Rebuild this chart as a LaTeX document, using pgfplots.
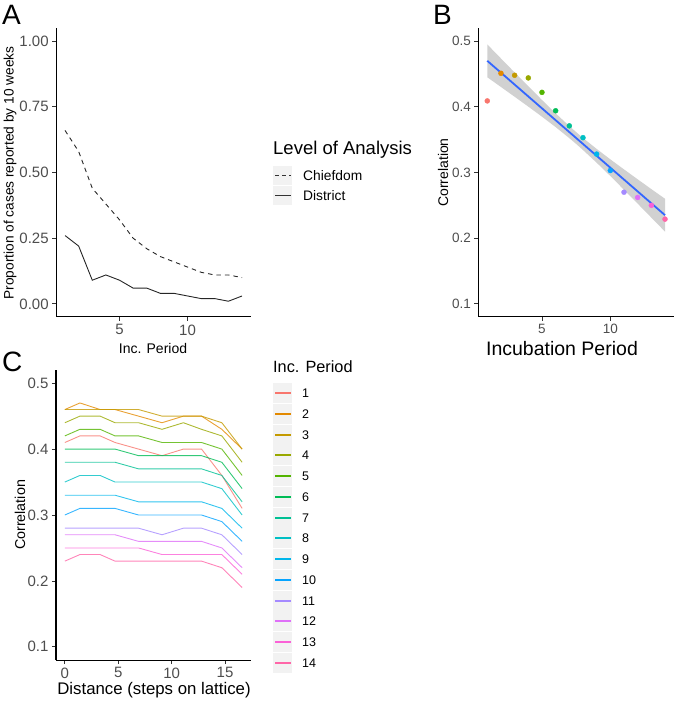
\documentclass[border=0pt]{standalone}
\usepackage{fontspec}
\setmainfont{Liberation Sans}
\usepackage{pgfplots}
\usepackage{pgfplotstable}
\pgfplotsset{compat=1.18}
\definecolor{c1}{HTML}{F8766D}
\definecolor{c2}{HTML}{E38900}
\definecolor{c3}{HTML}{C49A00}
\definecolor{c4}{HTML}{99A800}
\definecolor{c5}{HTML}{53B400}
\definecolor{c6}{HTML}{00BC56}
\definecolor{c7}{HTML}{00C094}
\definecolor{c8}{HTML}{00BFC4}
\definecolor{c9}{HTML}{00B6EB}
\definecolor{c10}{HTML}{06A4FF}
\definecolor{c11}{HTML}{A58AFF}
\definecolor{c12}{HTML}{DF70F8}
\definecolor{c13}{HTML}{FB61D7}
\definecolor{c14}{HTML}{FF66A8}
\definecolor{tickgray}{HTML}{4D4D4D}
\definecolor{keybg}{HTML}{F2F2F2}
\definecolor{smoothblue}{HTML}{3366FF}

\pgfplotstableread{
x p1 p2 p3 p4 p5 p6 p7 p8 p9 p10 p11 p12 p13 p14
0 0.41 0.46 0.46 0.44 0.42 0.40 0.38 0.35 0.33 0.30 0.28 0.27 0.25 0.23
1.41 0.42 0.47 0.46 0.45 0.43 0.40 0.38 0.36 0.33 0.31 0.28 0.27 0.25 0.24
3.3 0.42 0.46 0.46 0.45 0.43 0.40 0.38 0.36 0.33 0.31 0.28 0.27 0.25 0.24
4.7 0.41 0.46 0.46 0.44 0.42 0.40 0.38 0.35 0.33 0.31 0.28 0.27 0.25 0.23
6.9 0.40 0.45 0.46 0.44 0.42 0.39 0.37 0.35 0.32 0.30 0.28 0.26 0.25 0.23
9.1 0.39 0.44 0.45 0.43 0.41 0.39 0.37 0.35 0.32 0.30 0.27 0.26 0.24 0.23
11.1 0.40 0.45 0.45 0.44 0.41 0.39 0.37 0.35 0.32 0.30 0.28 0.26 0.24 0.23
12.8 0.40 0.45 0.45 0.43 0.41 0.39 0.37 0.35 0.32 0.30 0.28 0.26 0.24 0.23
14.7 0.36 0.43 0.44 0.42 0.40 0.38 0.36 0.34 0.31 0.29 0.27 0.25 0.24 0.22
16.6 0.31 0.40 0.40 0.38 0.36 0.34 0.32 0.30 0.28 0.26 0.24 0.22 0.21 0.19
}\tabC

\pgfplotsset{
  gg/.style={
    scale only axis,
    axis lines*=left,
    axis line style={line width=1pt, black},
    every tick/.style={line width=0.8pt, black!80},
    tick align=outside,
    major tick length=4pt,
    /pgf/number format/assume math mode=true,
    ticklabel style={text=tickgray},
    clip=false,
  },
  cl/.style={line width=0.9pt, draw opacity=0.8},
}

\begin{document}
\begin{tikzpicture}
\path[use as bounding box] (0,0) rectangle (677pt,702pt);

% ---------------- Panel A ----------------
\begin{axis}[gg, at={(56.2pt,385pt)}, anchor=south west,
  width=194.7pt, height=289pt,
  xmin=0.35, xmax=14.65, ymin=-0.05, ymax=1.05,
  xtick={5,10}, ytick={0,0.25,0.5,0.75,1},
  yticklabels={0.00,0.25,0.50,0.75,1.00},
  ticklabel style={font=\fontsize{15}{15}\selectfont}]
\addplot[black!85, line width=0.9pt, dash pattern=on 4.5pt off 4pt] coordinates {
(1,0.66) (2,0.58) (3,0.44) (4,0.38) (5,0.32) (6,0.25) (7,0.21) (8,0.18) (9,0.16) (10,0.14) (11,0.12) (12,0.11) (13,0.11) (14,0.10)};
\addplot[black!85, line width=0.9pt] coordinates {
(1,0.26) (2,0.22) (3,0.09) (4,0.11) (5,0.09) (6,0.06) (7,0.06) (8,0.04) (9,0.04) (10,0.03) (11,0.02) (12,0.02) (13,0.01) (14,0.03)};
\end{axis}

% ---------------- Panel B ----------------
\begin{axis}[gg, at={(478.4pt,385pt)}, anchor=south west,
  width=195.5pt, height=289pt,
  xmin=0.35, xmax=14.65, ymin=0.08, ymax=0.52,
  xtick={5,10}, ytick={0.1,0.2,0.3,0.4,0.5},
  yticklabels={0.1,0.2,0.3,0.4,0.5},
  ticklabel style={font=\fontsize{13.5}{13.5}\selectfont}]
\addplot[only marks, mark=*, mark size=2.5pt, c1] coordinates {(1,0.409)};
\addplot[only marks, mark=*, mark size=2.5pt, c2] coordinates {(2,0.451)};
\addplot[only marks, mark=*, mark size=2.5pt, c3] coordinates {(3,0.448)};
\addplot[only marks, mark=*, mark size=2.5pt, c4] coordinates {(4,0.444)};
\addplot[only marks, mark=*, mark size=2.5pt, c5] coordinates {(5,0.422)};
\addplot[only marks, mark=*, mark size=2.5pt, c6] coordinates {(6,0.394)};
\addplot[only marks, mark=*, mark size=2.5pt, c7] coordinates {(7,0.371)};
\addplot[only marks, mark=*, mark size=2.5pt, c8] coordinates {(8,0.353)};
\addplot[only marks, mark=*, mark size=2.5pt, c9] coordinates {(9,0.328)};
\addplot[only marks, mark=*, mark size=2.5pt, c10] coordinates {(10,0.303)};
\addplot[only marks, mark=*, mark size=2.5pt, c11] coordinates {(11,0.270)};
\addplot[only marks, mark=*, mark size=2.5pt, c12] coordinates {(12,0.262)};
\addplot[only marks, mark=*, mark size=2.5pt, c13] coordinates {(13,0.250)};
\addplot[only marks, mark=*, mark size=2.5pt, c14] coordinates {(14,0.229)};
% confidence band
\addplot[draw=none, fill=black!60, fill opacity=0.3] coordinates {
(1,0.4950) (2,0.4736) (3,0.4523) (4,0.4313) (5,0.4104) (6,0.3901) (7,0.3707) (7.5,0.3615) (8,0.3526) (9,0.3359) (10,0.3200) (11,0.3047) (12,0.2896) (13,0.2747) (14,0.2600)
(14,0.2100) (13,0.2313) (12,0.2526) (11,0.2737) (10,0.2946) (9,0.3149) (8,0.3342) (7.5,0.3435) (7,0.3523) (6,0.3691) (5,0.3850) (4,0.4003) (3,0.4153) (2,0.4302) (1,0.4450)} -- cycle;
\addplot[smoothblue, line width=1.8pt] coordinates {(1,0.470) (14,0.235)};
\end{axis}

% ---------------- Panel C ----------------
\begin{axis}[gg, at={(56pt,42pt)}, anchor=south west,
  width=195pt, height=290pt,
  xmin=-0.83, xmax=17.43, ymin=0.08, ymax=0.52,
  xtick={0,5,10,15}, ytick={0.1,0.2,0.3,0.4,0.5},
  yticklabels={0.1,0.2,0.3,0.4,0.5},
  ticklabel style={font=\fontsize{15}{15}\selectfont}]
\addplot[c1, cl] table[x=x,y=p1]{\tabC};
\addplot[c2, cl] table[x=x,y=p2]{\tabC};
\addplot[c3, cl] table[x=x,y=p3]{\tabC};
\addplot[c4, cl] table[x=x,y=p4]{\tabC};
\addplot[c5, cl] table[x=x,y=p5]{\tabC};
\addplot[c6, cl] table[x=x,y=p6]{\tabC};
\addplot[c7, cl] table[x=x,y=p7]{\tabC};
\addplot[c8, cl] table[x=x,y=p8]{\tabC};
\addplot[c9, cl] table[x=x,y=p9]{\tabC};
\addplot[c10, cl] table[x=x,y=p10]{\tabC};
\addplot[c11, cl] table[x=x,y=p11]{\tabC};
\addplot[c12, cl] table[x=x,y=p12]{\tabC};
\addplot[c13, cl] table[x=x,y=p13]{\tabC};
\addplot[c14, cl] table[x=x,y=p14]{\tabC};
\end{axis}

% ---------------- Texts ----------------
\node[anchor=base west, inner sep=0, font=\fontsize{28}{28}\selectfont] at (2pt,677pt) {A};
\node[anchor=base west, inner sep=0, font=\fontsize{28}{28}\selectfont] at (433pt,677pt) {B};
\node[anchor=base west, inner sep=0, font=\fontsize{28}{28}\selectfont] at (2pt,330pt) {C};

% Panel A labels
\node[rotate=90, inner sep=0, font=\fontsize{13.7}{13.7}\selectfont] at (10pt,529pt) {Proportion of cases reported by 10 weeks};
\node[inner sep=0, font=\fontsize{14}{14}\selectfont] at (153pt,354pt) {Inc. Period};
% Panel A legend
\node[anchor=base west, inner sep=0, font=\fontsize{18.5}{18.5}\selectfont] at (273pt,547pt) {Level of Analysis};
\fill[keybg] (273pt,517pt) rectangle (292pt,536pt);
\fill[keybg] (273pt,497pt) rectangle (292pt,516pt);
\draw[black!80, line width=1pt, dash pattern=on 4pt off 3pt] (275pt,526.5pt) -- (291pt,526.5pt);
\draw[black!80, line width=1pt] (275pt,506.5pt) -- (291pt,506.5pt);
\node[anchor=west, inner sep=0, font=\fontsize{13.8}{13.8}\selectfont] at (303pt,526pt) {Chiefdom};
\node[anchor=west, inner sep=0, font=\fontsize{13.8}{13.8}\selectfont] at (303pt,506pt) {District};

% Panel B labels
\node[rotate=90, inner sep=0, font=\fontsize{14}{14}\selectfont] at (443pt,529.5pt) {Correlation};
\node[inner sep=0, font=\fontsize{19.5}{19.5}\selectfont] at (562pt,353pt) {Incubation Period};

% Panel C labels
\node[rotate=90, inner sep=0, font=\fontsize{14.3}{14.3}\selectfont] at (20pt,187pt) {Correlation};
\node[inner sep=0, font=\fontsize{16.8}{16.8}\selectfont] at (154pt,12pt) {Distance (steps on lattice)};
% Panel C legend
\node[anchor=base west, inner sep=0, font=\fontsize{16.3}{16.3}\selectfont] at (273pt,329pt) {Inc. Period};
\foreach \i in {1,...,14}{
  \pgfmathsetmacro{\yc}{round(702-393-(\i-1)*20.77)}
  \fill[keybg] (273pt,\yc pt-9.6pt) rectangle (292pt,\yc pt+9.6pt);
  \draw[c\i, line width=1.3pt] (275pt,\yc pt) -- (291pt,\yc pt);
  \node[anchor=west, inner sep=0, font=\fontsize{12.5}{12.5}\selectfont] at (302pt,\yc pt) {\i};
}
\end{tikzpicture}
\end{document}
